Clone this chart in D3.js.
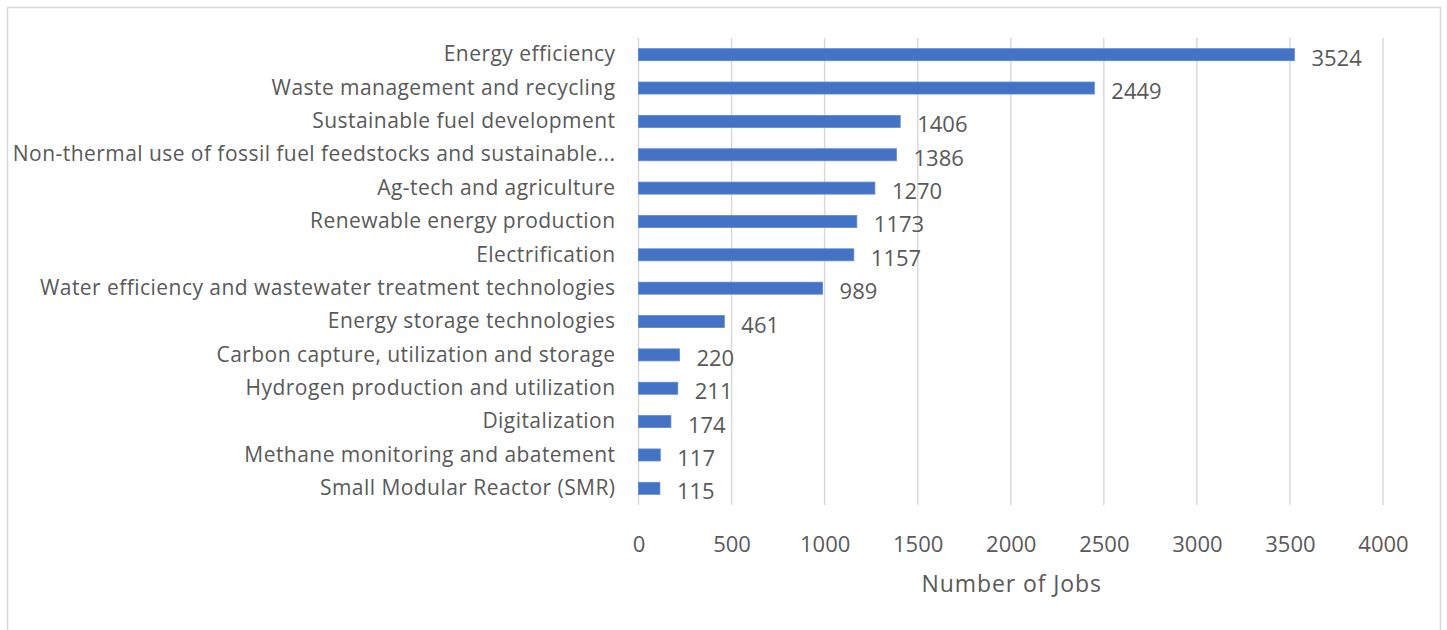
<!DOCTYPE html>
<html>
<head>
<meta charset="utf-8">
<script src="https://cdn.jsdelivr.net/npm/d3@7"></script>
<style>
  html, body { margin: 0; padding: 0; background: #fff; }
  svg { display: block; }
  text { font-family: "Open Sans", "Liberation Sans", sans-serif; fill: #595959; }
</style>
</head>
<body>
<svg id="chart" width="1447" height="630"></svg>
<script>
const categories = [
  "Energy efficiency",
  "Waste management and recycling",
  "Sustainable fuel development",
  "Non-thermal use of fossil fuel feedstocks and sustainable...",
  "Ag-tech and agriculture",
  "Renewable energy production",
  "Electrification",
  "Water efficiency and wastewater treatment technologies",
  "Energy storage technologies",
  "Carbon capture, utilization and storage",
  "Hydrogen production and utilization",
  "Digitalization",
  "Methane monitoring and abatement",
  "Small Modular Reactor (SMR)"
];
const jobs = [3524, 2449, 1406, 1386, 1270, 1173, 1157, 989, 461, 220, 211, 174, 117, 115];
const xTicks = [0, 500, 1000, 1500, 2000, 2500, 3000, 3500, 4000];
const xTitle = "Number of Jobs";

const svg = d3.select("#chart");

// outer frame
svg.append("rect")
  .attr("x", 7.5).attr("y", 7.5)
  .attr("width", 1433).attr("height", 640)
  .attr("fill", "none").attr("stroke", "#d9d9d9").attr("stroke-width", 1.5);

const plotLeft = 638.5, plotRight = 1383, plotTop = 38, plotBottom = 505;

const x = d3.scaleLinear().domain([0, 4000]).range([plotLeft, plotRight]);
const y = d3.scaleBand().domain(categories).range([plotTop, plotBottom]).paddingInner(0.64).paddingOuter(0.32);

// gridlines
svg.append("g").selectAll("line").data(xTicks).join("line")
  .attr("x1", d => x(d)).attr("x2", d => x(d))
  .attr("y1", plotTop).attr("y2", plotBottom)
  .attr("stroke", "#d9d9d9").attr("stroke-width", 1.5);

// bars
svg.append("g").selectAll("rect").data(jobs).join("rect")
  .attr("x", x(0))
  .attr("y", (d, i) => y(categories[i]))
  .attr("width", d => x(d) - x(0))
  .attr("height", y.bandwidth())
  .attr("fill", "#4472C4")
  .attr("stroke", "#5b88d3").attr("stroke-width", 0.8);

// value labels
svg.append("g").selectAll("text").data(jobs).join("text")
  .attr("x", d => x(d) + 17)
  .attr("y", (d, i) => y(categories[i]) + y.bandwidth() / 2 + 2)
  .attr("dominant-baseline", "central")
  .attr("font-size", 22)
  .text(d => d);

// category labels
const yAxis = d3.axisLeft(y).tickSize(0).tickPadding(23);
const gy = svg.append("g").attr("transform", `translate(${plotLeft},0)`).call(yAxis);
gy.select(".domain").remove();
gy.selectAll("text")
  .attr("font-size", 21)
  .attr("letter-spacing", 0.45)
  .attr("fill", "#595959")
  .style("font-family", "'Open Sans', sans-serif");

// x tick labels
const xAxis = d3.axisBottom(x).tickValues(xTicks).tickSize(0).tickPadding(0).tickFormat(d3.format("d"));
const gx = svg.append("g").attr("transform", `translate(0,${plotBottom})`).call(xAxis);
gx.select(".domain").remove();
gx.selectAll("text")
  .attr("y", 38)
  .attr("dy", null)
  .attr("dominant-baseline", "central")
  .attr("font-size", 22)
  .attr("fill", "#595959")
  .style("font-family", "'Open Sans', sans-serif");

// axis title
svg.append("text")
  .attr("x", (plotLeft + plotRight) / 2 + 1)
  .attr("y", 583)
  .attr("text-anchor", "middle")
  .attr("dominant-baseline", "central")
  .attr("font-size", 23)
  .attr("letter-spacing", 0.9)
  .text(xTitle);
</script>
</body>
</html>
